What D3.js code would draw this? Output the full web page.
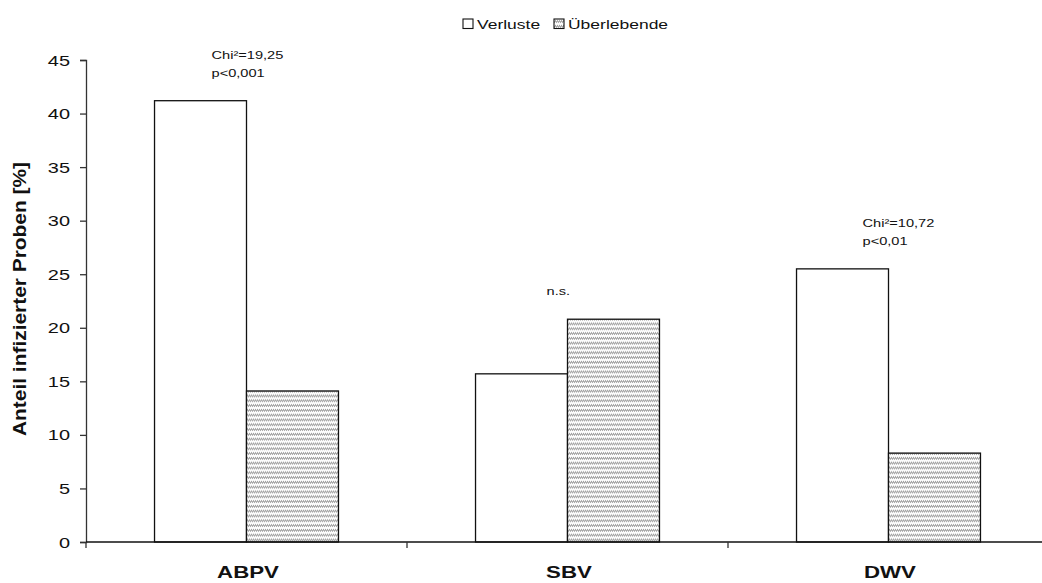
<!DOCTYPE html>
<html>
<head>
<meta charset="utf-8">
<script src="https://cdn.jsdelivr.net/npm/d3@7"></script>
<style>
  body { margin: 0; background: #fff; }
  svg { display: block; font-family: "Liberation Sans", Arial, sans-serif; }
</style>
</head>
<body>
<svg id="chart" width="1042" height="583"></svg>
<script>
// Share of infected samples per virus, losses vs. survivors
const categories = ["ABPV", "SBV", "DWV"];
const seriesNames = ["Verluste", "Überlebende"];
const verluste = [41.2, 15.7, 25.5];
const ueberlebende = [14.1, 20.8, 8.3];
const yTicks = [0, 5, 10, 15, 20, 25, 30, 35, 40, 45];
const annotations = [["Chi²=19,25", "p<0,001"], ["n.s."], ["Chi²=10,72", "p<0,01"]];

// layout
const W = 1042, H = 583;
const margin = { left: 86, top: 60, bottom: 41 };
const plotBottom = H - margin.bottom;
const bandStep = 321;
const annotDx = [57, 71, 66];   // horizontal offset of each note from its group's first bar
const textStretch = 1.3;        // horizontal widening used for all horizontal labels

const svg = d3.select("#chart");

const x = d3.scaleBand().domain(categories)
  .range([margin.left, margin.left + categories.length * bandStep]).padding(0);
const xs = d3.scaleBand().domain(seriesNames)
  .range([0, x.bandwidth()]).paddingInner(0).paddingOuter(0.745);
const y = d3.scaleLinear().domain([0, 45]).range([plotBottom, margin.top]);

// horizontally widened text label
function label(parent, tx, ty, str, opts = {}) {
  const s = opts.stretch || textStretch;
  return parent.append("text")
    .attr("transform", `translate(${tx},${ty}) scale(${s},1)`)
    .attr("text-anchor", opts.anchor || "start")
    .attr("font-size", opts.size || 12)
    .attr("font-weight", opts.weight || "normal")
    .attr("fill", "#111")
    .text(str);
}

// Hatch fill for the survivor bars
const defs = svg.append("defs");
const pat = defs.append("pattern")
  .attr("id", "hatch").attr("patternUnits", "userSpaceOnUse")
  .attr("width", 2).attr("height", 4.8);
pat.append("rect").attr("width", 2).attr("height", 4.8).attr("fill", "#fff");
pat.append("path").attr("d", "M-0.5,3.8 L2.5,0.8")
  .attr("stroke", "#8c8c8c").attr("stroke-width", 1.1).attr("fill", "none");

// Bars
const rows = categories.map((c, i) => ({ c, vals: [verluste[i], ueberlebende[i]] }));
const g = svg.append("g");
rows.forEach(r => {
  r.vals.forEach((v, j) => {
    g.append("rect")
      .attr("x", x(r.c) + xs(seriesNames[j]))
      .attr("y", y(v))
      .attr("width", xs.bandwidth())
      .attr("height", y(0) - y(v))
      .attr("fill", j === 0 ? "#fff" : "url(#hatch)")
      .attr("stroke", "#111").attr("stroke-width", 1.3);
  });
});

// Y axis (line + ticks from d3, labels widened by hand)
const yAxis = d3.axisLeft(y).tickValues(yTicks).tickSize(6).tickFormat("");
const ya = svg.append("g").attr("transform", `translate(${margin.left},0)`).call(yAxis);
ya.select(".domain").attr("stroke", "#333").attr("stroke-width", 1.3);
ya.selectAll(".tick line").attr("stroke", "#333").attr("stroke-width", 1.3);
yTicks.forEach(t => {
  label(svg, 70, y(t) + 5.5, String(t), { anchor: "end", size: 15, stretch: 1.33 });
});

// X axis baseline with ticks at category boundaries
svg.append("line").attr("x1", margin.left).attr("x2", W).attr("y1", plotBottom).attr("y2", plotBottom)
  .attr("stroke", "#111").attr("stroke-width", 1.5);
categories.forEach(c => {
  const bx = x(c);
  svg.append("line").attr("x1", bx).attr("x2", bx).attr("y1", plotBottom).attr("y2", plotBottom + 6)
    .attr("stroke", "#333").attr("stroke-width", 1.3);
  label(svg, bx + x.bandwidth() / 2 + 1.5, 578, c, { anchor: "middle", size: 17, weight: "bold", stretch: 1.31 });
});

// Y axis title
svg.append("text")
  .attr("transform", `translate(26,299) rotate(-90) scale(1.1,1)`)
  .attr("text-anchor", "middle").attr("font-size", 19).attr("font-weight", "bold").attr("fill", "#111")
  .text("Anteil infizierter Proben [%]");

// Significance notes above each group
rows.forEach((r, i) => {
  const lines = annotations[i];
  const top = y(Math.max(...r.vals));
  const x0 = x(r.c) + xs(seriesNames[0]) + annotDx[i];
  lines.forEach((t, k) => {
    const by = top - 24 - (lines.length - 1 - k) * 18;
    label(svg, x0, by, t, { size: 11.5, stretch: 1.27 });
  });
});

// Legend
const legendX = [463, 554];
seriesNames.forEach((s, j) => {
  svg.append("rect").attr("x", legendX[j]).attr("y", 19).attr("width", 10).attr("height", 9.5)
    .attr("fill", j === 0 ? "#fff" : "url(#hatch)").attr("stroke", "#111").attr("stroke-width", 1.1);
  label(svg, legendX[j] + 14, 28.5, s, { size: 12.5, stretch: 1.4 });
});
</script>
</body>
</html>
